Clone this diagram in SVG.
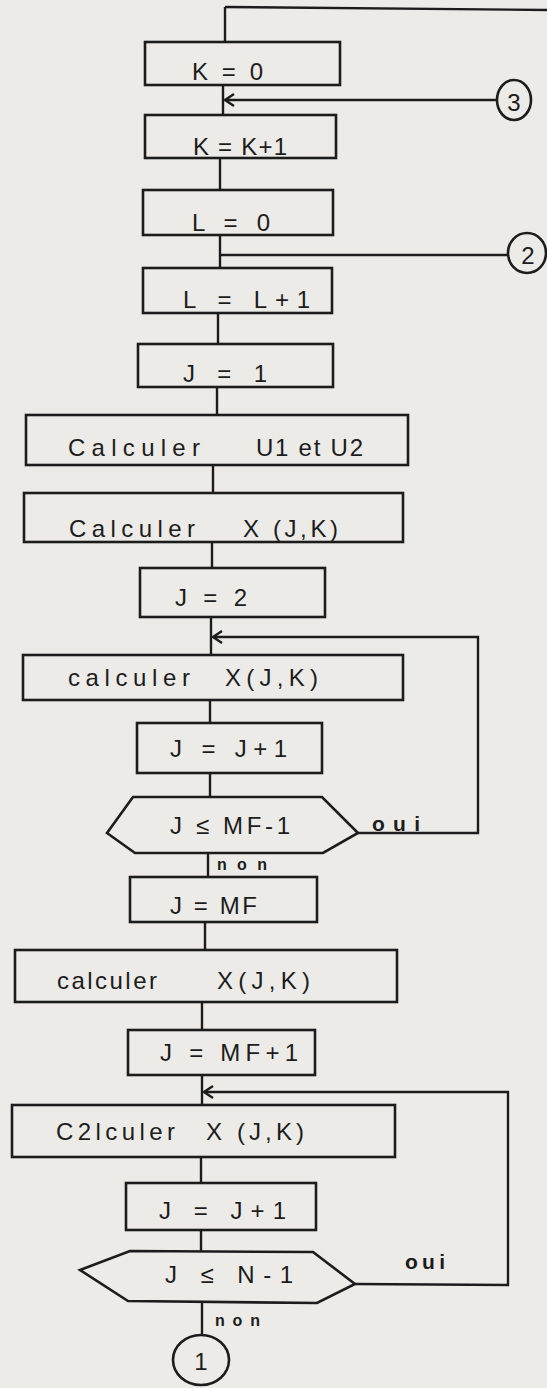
<svg xmlns="http://www.w3.org/2000/svg" width="547" height="1388" viewBox="0 0 547 1388">
<style>
.b{fill:none;stroke:#1c1c1c;stroke-width:2.6}
.c{fill:none;stroke:#1c1c1c;stroke-width:2.4}
.t{font-family:"Liberation Sans",Arial,sans-serif;font-size:24px;fill:#1c1c1c}
.s{font-family:"Liberation Sans",Arial,sans-serif;font-size:16px;font-weight:bold;fill:#1c1c1c}
.o{font-family:"Liberation Sans",Arial,sans-serif;font-size:21px;font-weight:bold;fill:#1c1c1c}
</style>
<defs>
<marker id="ah" markerUnits="userSpaceOnUse" markerWidth="20" markerHeight="20" refX="0" refY="0" viewBox="-12 -10 14 20" orient="auto" overflow="visible">
<path d="M-9,-6 L0,0 L-9,6" fill="none" stroke="#1c1c1c" stroke-width="2.4"/>
</marker>
</defs>
<rect x="0" y="0" width="547" height="1388" fill="#ecebe7"/>
<g id="connectors">
<path class="c" d="M225,7 L547,10"/>
<path class="c" d="M225,7 L225,42"/>
<path class="c" d="M223,85 L223,115"/>
<path class="c" d="M497,100 L225,100" marker-end="url(#ah)"/>
<path class="c" d="M220,158 L220,190"/>
<path class="c" d="M220,235 L220,268"/>
<path class="c" d="M220,255 L508,255"/>
<path class="c" d="M218,313 L218,344"/>
<path class="c" d="M217,387 L217,415"/>
<path class="c" d="M213,465 L213,493"/>
<path class="c" d="M212,542 L212,568"/>
<path class="c" d="M211,617 L211,655"/>
<path class="c" d="M358,833 L478,833 L478,637 L213,637" marker-end="url(#ah)"/>
<path class="c" d="M210,700 L210,723"/>
<path class="c" d="M210,773 L210,797"/>
<path class="c" d="M208,853 L208,877"/>
<path class="c" d="M205,922 L205,950"/>
<path class="c" d="M202,1002 L202,1030"/>
<path class="c" d="M202,1075 L202,1105"/>
<path class="c" d="M355,1284 L508,1285 L508,1092 L204,1092" marker-end="url(#ah)"/>
<path class="c" d="M201,1157 L201,1183"/>
<path class="c" d="M201,1230 L201,1251"/>
<path class="c" d="M202,1302 L202,1335"/>
</g>
<g id="n_c3"><ellipse class="b" cx="514" cy="100" rx="17" ry="20"/><text class="t" x="514" y="111" font-size="28" text-anchor="middle">3</text></g>
<g id="n_c2"><ellipse class="b" cx="527" cy="253" rx="19" ry="20"/><text class="t" x="528" y="264" font-size="28" text-anchor="middle">2</text></g>
<g id="n_k0"><rect class="b" x="145" y="42" width="195" height="43"/><text class="t" x="192" y="80" textLength="71" lengthAdjust="spacing">K = 0</text></g>
<g id="n_kk1"><rect class="b" x="145" y="115" width="191" height="43"/><text class="t" x="193" y="155" textLength="94" lengthAdjust="spacing">K = K+1</text></g>
<g id="n_l0"><rect class="b" x="143" y="190" width="190" height="45"/><text class="t" x="192" y="231" textLength="78" lengthAdjust="spacing">L = 0</text></g>
<g id="n_ll1"><rect class="b" x="143" y="268" width="189" height="45"/><text class="t" x="183" y="308" textLength="127" lengthAdjust="spacing">L = L+1</text></g>
<g id="n_j1"><rect class="b" x="138" y="344" width="195" height="43"/><text class="t" x="183" y="382" textLength="84" lengthAdjust="spacing">J = 1</text></g>
<g id="n_u"><rect class="b" x="26" y="415" width="382" height="50"/><text class="t" x="68" y="456" textLength="132" lengthAdjust="spacing">Calculer</text><text class="t" x="256" y="456" textLength="107" lengthAdjust="spacing">U1 et U2</text></g>
<g id="n_x1"><rect class="b" x="24" y="493" width="379" height="49"/><text class="t" x="69" y="537" textLength="126" lengthAdjust="spacing">Calculer</text><text class="t" x="243" y="537" textLength="95" lengthAdjust="spacing">X (J,K)</text></g>
<g id="n_j2"><rect class="b" x="140" y="568" width="185" height="49"/><text class="t" x="175" y="606" textLength="72" lengthAdjust="spacing">J = 2</text></g>
<g id="n_x2"><rect class="b" x="23" y="655" width="380" height="45"/><text class="t" x="68" y="686" textLength="122" lengthAdjust="spacing">calculer</text><text class="t" x="225" y="686" textLength="93" lengthAdjust="spacing">X(J,K)</text></g>
<g id="n_jj1"><rect class="b" x="137" y="723" width="185" height="50"/><text class="t" x="170" y="757" textLength="117" lengthAdjust="spacing">J =  J+1</text></g>
<g id="n_d1"><path class="b" d="M107,833 L133,797 L322,797 L358,833 L323,853 L135,853 Z"/><text class="t" x="170" y="834" textLength="120" lengthAdjust="spacing">J ≤ MF-1</text><text class="o" x="372" y="831" textLength="48" lengthAdjust="spacing">oui</text><text class="s" x="217" y="870" textLength="50" lengthAdjust="spacing">non</text></g>
<g id="n_jmf"><rect class="b" x="130" y="877" width="187" height="45"/><text class="t" x="170" y="914" textLength="87" lengthAdjust="spacing">J = MF</text></g>
<g id="n_x3"><rect class="b" x="15" y="950" width="382" height="52"/><text class="t" x="57" y="989" textLength="100" lengthAdjust="spacing">calculer</text><text class="t" x="217" y="989" textLength="93" lengthAdjust="spacing">X(J,K)</text></g>
<g id="n_jmf1"><rect class="b" x="128" y="1030" width="187" height="45"/><text class="t" x="160" y="1061" textLength="138" lengthAdjust="spacing">J = MF+1</text></g>
<g id="n_x4"><rect class="b" x="12" y="1105" width="383" height="52"/><text class="t" x="56" y="1140" textLength="119" lengthAdjust="spacing">C2lculer</text><text class="t" x="206" y="1140" textLength="98" lengthAdjust="spacing">X (J,K)</text></g>
<g id="n_jj2"><rect class="b" x="126" y="1183" width="190" height="47"/><text class="t" x="159" y="1219" textLength="127" lengthAdjust="spacing">J = J+1</text></g>
<g id="n_d2"><path class="b" d="M80,1270 L130,1251 L313,1252 L355,1284 L317,1303 L128,1301 Z"/><text class="t" x="165" y="1283" textLength="128" lengthAdjust="spacing">J ≤  N-1</text><text class="o" x="405" y="1269" textLength="40" lengthAdjust="spacing">oui</text><text class="s" x="215" y="1326" textLength="45" lengthAdjust="spacing">non</text></g>
<g id="n_c1"><ellipse class="b" cx="201" cy="1360" rx="28" ry="25"/><text class="t" x="201" y="1370" font-size="28" text-anchor="middle">1</text></g>
</svg>
